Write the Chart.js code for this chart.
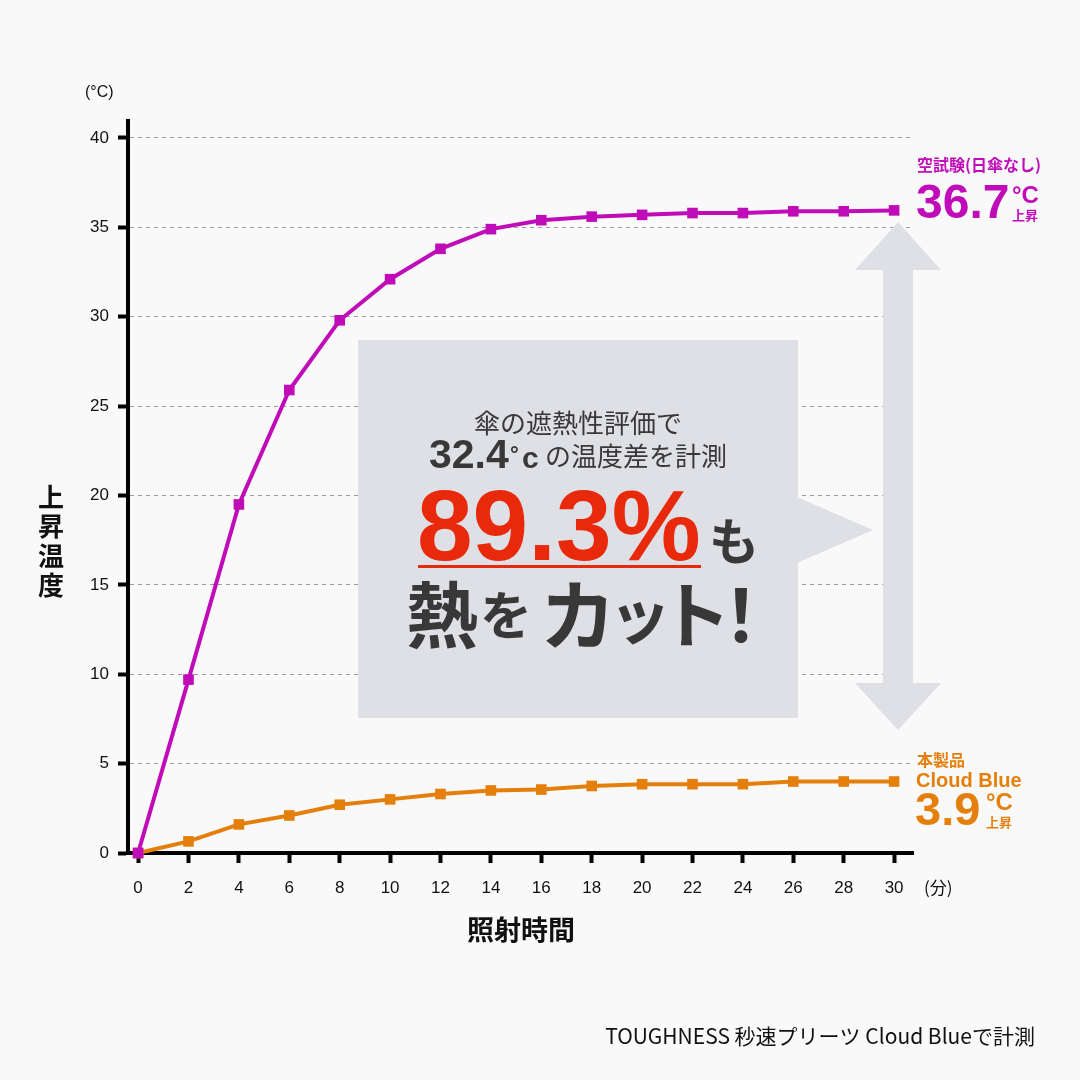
<!DOCTYPE html>
<html lang="ja">
<head>
<meta charset="UTF-8">
<title>日傘の遮熱性評価</title>
<script src="https://cdn.jsdelivr.net/npm/chart.js"></script>
<style>
  html, body { margin: 0; padding: 0; background: #f9f9f9; }
  #wrap { width: 1080px; height: 1080px; }
</style>
</head>
<body>
<div id="wrap"><canvas id="heatChart" width="1080" height="1080"></canvas></div>

<script>
    // 照射時間 (分)
    const minutes = [0, 2, 4, 6, 8, 10, 12, 14, 16, 18, 20, 22, 24, 26, 28, 30];
    // 空試験 (日傘なし) 上昇温度
    const blankTest = [0, 9.7, 19.5, 25.9, 29.8, 32.1, 33.8, 34.9, 35.4, 35.6, 35.7, 35.8, 35.8, 35.9, 35.9, 35.95];
    // 本製品 Cloud Blue 上昇温度
    const cloudBlue = [0, 0.65, 1.6, 2.1, 2.7, 3.0, 3.3, 3.5, 3.55, 3.75, 3.85, 3.85, 3.85, 4.0, 4.0, 4.0];
    const yTicks = [0, 5, 10, 15, 20, 25, 30, 35, 40];

    const PURPLE = '#c00cb8';
    const ORANGE = '#e57f0b';
    const PANEL = '#dfe0e5';
    const JP = '"Noto Sans CJK JP", sans-serif';
    const NUM = '"Liberation Sans", "Noto Sans CJK JP", sans-serif';

    function txt(ctx, s, x, y, font, color, align, base) {
        ctx.font = font;
        ctx.fillStyle = color;
        ctx.textAlign = align || 'left';
        ctx.textBaseline = base || 'alphabetic';
        ctx.fillText(s, x, y);
    }

    const overlay = {
        id: 'overlay',
        beforeDraw(chart) {
            const ctx = chart.ctx;
            ctx.save();
            ctx.fillStyle = '#f9f9f9';
            ctx.fillRect(0, 0, chart.width, chart.height);
            ctx.restore();
        },
        beforeDatasetsDraw(chart) {
            const ctx = chart.ctx;
            ctx.save();
            ctx.fillStyle = PANEL;
            // callout box + pointer
            ctx.fillRect(358, 340, 440, 378);
            ctx.beginPath();
            ctx.moveTo(797, 497); ctx.lineTo(873, 530); ctx.lineTo(797, 563);
            ctx.closePath(); ctx.fill();
            // double arrow
            ctx.beginPath();
            ctx.moveTo(898, 222); ctx.lineTo(941, 270); ctx.lineTo(913, 270);
            ctx.lineTo(913, 683); ctx.lineTo(941, 683); ctx.lineTo(898, 730);
            ctx.lineTo(855, 683); ctx.lineTo(883, 683); ctx.lineTo(883, 270);
            ctx.lineTo(855, 270);
            ctx.closePath(); ctx.fill();
            ctx.restore();
        },
        afterDraw(chart) {
            const ctx = chart.ctx;
            ctx.save();
            // axis units and titles
            txt(ctx, '(°C)', 85, 97, '16px ' + NUM, '#111');
            txt(ctx, '(分)', 924, 894, '17px ' + JP, '#111');
            txt(ctx, '照射時間', 521, 930, 'bold 27px ' + JP, '#111', 'center', 'middle');
            ['上', '昇', '温', '度'].forEach((c, i) => {
                txt(ctx, c, 51, 497 + i * 29.5, 'bold 26px ' + JP, '#111', 'center', 'middle');
            });

            // series labels
            txt(ctx, '空試験(日傘なし)', 917, 165, 'bold 16px ' + JP, PURPLE, 'left', 'middle');
            txt(ctx, '36.7', 916, 218, 'bold 48px ' + NUM, PURPLE);
            txt(ctx, '°C', 1012, 203, 'bold 24px ' + NUM, PURPLE);
            txt(ctx, '上昇', 1012, 220, 'bold 13px ' + JP, PURPLE);

            txt(ctx, '本製品', 917, 760, 'bold 16px ' + JP, ORANGE, 'left', 'middle');
            txt(ctx, 'Cloud Blue', 916, 787, 'bold 20px ' + NUM, ORANGE);
            txt(ctx, '3.9', 915, 825, 'bold 47px ' + NUM, ORANGE);
            txt(ctx, '°C', 986, 810, 'bold 24px ' + NUM, ORANGE);
            txt(ctx, '上昇', 986, 827, 'bold 13px ' + JP, ORANGE);

            // callout text
            const dark = '#383838';
            txt(ctx, '傘の遮熱性評価で', 578, 423, '26px ' + JP, dark, 'center', 'middle');
            txt(ctx, '32.4', 429, 468, 'bold 41px ' + NUM, dark);
            txt(ctx, '°', 510, 462, 'bold 22px ' + NUM, dark);
            txt(ctx, 'c', 522, 468, 'bold 30px ' + NUM, dark);
            txt(ctx, 'の温度差を計測', 545, 456, '26px ' + JP, dark, 'left', 'middle');

            const red = '#e8290b';
            txt(ctx, '89.3%', 417, 560, 'bold 100px ' + NUM, red);
            ctx.fillStyle = red;
            ctx.fillRect(418, 565, 283, 3);
            txt(ctx, 'も', 734, 541, 'bold 50px ' + JP, dark, 'center', 'middle');

            const cut = [['熱', 442, 72], ['を', 506, 52], ['カ', 578, 76], ['ッ', 640, 62], ['ト', 695, 72], ['！', 741, 72]];
            cut.forEach(([c, x, s]) => {
                txt(ctx, c, x, 615, 'bold ' + s + 'px ' + JP, dark, 'center', 'middle');
            });

            // footer
            txt(ctx, 'TOUGHNESS 秒速プリーツ Cloud Blueで計測', 1035, 1036, '21px ' + JP, '#111', 'right', 'middle');
            ctx.restore();
        }
    };

    const ctx = document.getElementById('heatChart').getContext('2d');
    new Chart(ctx, {
        type: 'line',
        data: {
            datasets: [{
                label: '空試験(日傘なし)',
                data: minutes.map((m, i) => ({ x: m, y: blankTest[i] })),
                borderColor: PURPLE,
                backgroundColor: PURPLE,
                borderWidth: 4,
                pointStyle: 'rect',
                pointRadius: 7.5,
                pointBorderWidth: 0,
                tension: 0,
                clip: false
            }, {
                label: '本製品 Cloud Blue',
                data: minutes.map((m, i) => ({ x: m, y: cloudBlue[i] })),
                borderColor: ORANGE,
                backgroundColor: ORANGE,
                borderWidth: 4,
                pointStyle: 'rect',
                pointRadius: 7.5,
                pointBorderWidth: 0,
                tension: 0,
                clip: false
            }]
        },
        options: {
            responsive: false,
            animation: false,
            layout: { padding: { top: 121, right: 167, bottom: 0, left: 0 } },
            plugins: { legend: { display: false }, tooltip: { enabled: false } },
            scales: {
                x: {
                    type: 'linear',
                    min: -0.4,
                    max: 30.75,
                    afterBuildTicks: s => { s.ticks = minutes.map(v => ({ value: v })); },
                    afterFit: s => { s.height = 227; },
                    grid: { drawOnChartArea: false, drawTicks: true, tickLength: 10, tickWidth: 4, tickColor: '#000' },
                    border: { color: '#000', width: 4 },
                    ticks: { color: '#111', font: { family: NUM, size: 17 }, padding: 15, maxRotation: 0, autoSkip: false }
                },
                y: {
                    min: 0,
                    max: 40.95,
                    afterBuildTicks: s => { s.ticks = yTicks.map(v => ({ value: v })); },
                    afterFit: s => { s.width = 128; },
                    grid: {
                        color: c => (c.tick && c.tick.value === 0) ? 'rgba(0,0,0,0)' : '#9a9a9a',
                        lineWidth: 1,
                        tickLength: 10,
                        tickWidth: 4,
                        tickColor: '#000',
                        tickBorderDash: []
                    },
                    border: { color: '#000', width: 4, dash: [4, 4] },
                    ticks: { color: '#111', font: { family: NUM, size: 17 }, padding: 9 }
                }
            }
        },
        plugins: [overlay]
    });
</script>
</body>
</html>
